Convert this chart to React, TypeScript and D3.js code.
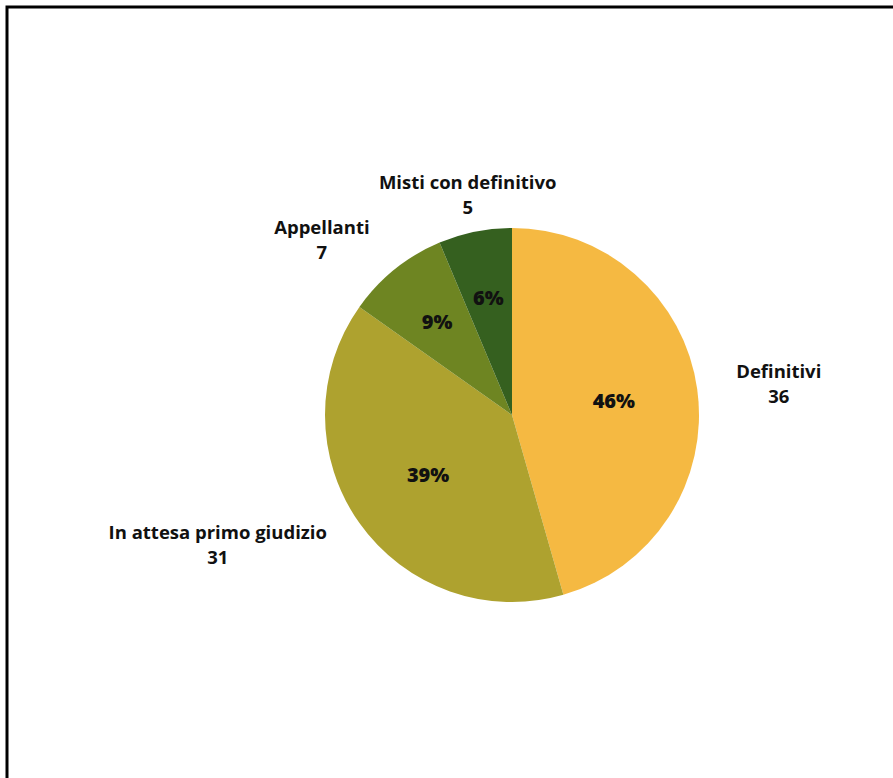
import React, { useEffect, useRef } from "react";
import * as d3 from "d3";

const categories = ["Definitivi", "In attesa primo giudizio", "Appellanti", "Misti con definitivo"];
const values = [36, 31, 7, 5];
const colors = ["#F5B942", "#AEA22F", "#6E8522", "#35601F"];

const W = 893;
const H = 778;

export default function App() {
  const ref = useRef<SVGSVGElement>(null);

  useEffect(() => {
    const svg = d3.select(ref.current);
    svg.selectAll("*").remove();

    svg.append("rect").attr("x", 0).attr("y", 0).attr("width", W).attr("height", H).attr("fill", "#fff");
    svg
      .append("path")
      .attr("d", `M7,${H + 10} L7,7 L${W + 10},7`)
      .attr("fill", "none")
      .attr("stroke", "#000")
      .attr("stroke-width", 3);

    const cx = 512;
    const cy = 415;
    const r = 187;
    const total = d3.sum(values);
    const data = categories.map((c, i) => ({ c, v: values[i], col: colors[i] }));

    const pie = d3.pie<any>().value((d) => d.v).sort(null);
    const arcs = pie(data);
    const arc = d3.arc<any>().innerRadius(0).outerRadius(r);

    const g = svg.append("g").attr("transform", `translate(${cx},${cy})`);
    g.selectAll("path.slice")
      .data(arcs)
      .join("path")
      .attr("class", "slice")
      .attr("d", arc as any)
      .attr("fill", (d: any) => d.data.col);

    const font = "'Open Sans', 'Noto Sans', sans-serif";
    const fs = 18.5;

    arcs.forEach((a: any) => {
      const share = a.data.v / total;
      const mid = (a.startAngle + a.endAngle) / 2;
      const pr = share > 0.2 ? r * 0.55 : r * 0.64;
      g.append("text")
        .attr("x", Math.sin(mid) * pr)
        .attr("y", -Math.cos(mid) * pr)
        .attr("dy", "0.36em")
        .attr("text-anchor", "middle")
        .attr("font-family", font)
        .attr("font-weight", 800)
        .attr("font-size", 20)
        .attr("fill", "#111")
        .text(`${Math.round(share * 100)}%`);

      const lr = r * 1.2;
      const sx = Math.sin(mid);
      const lx = sx * lr;
      const ly = -Math.cos(mid) * lr;
      const t1 = g
        .append("text")
        .attr("font-family", font)
        .attr("font-weight", 700)
        .attr("font-size", fs)
        .attr("fill", "#111")
        .text(a.data.c);
      const w = (t1.node() as SVGTextElement).getComputedTextLength();
      let centerX = lx;
      if (Math.abs(sx) > 0.4) centerX = lx + Math.sign(sx) * (w / 2 + 2);
      t1.attr("x", centerX).attr("y", ly - 6).attr("text-anchor", "middle");
      g.append("text")
        .attr("x", centerX)
        .attr("y", ly + 19)
        .attr("text-anchor", "middle")
        .attr("font-family", font)
        .attr("font-weight", 700)
        .attr("font-size", fs)
        .attr("fill", "#111")
        .text(String(a.data.v));
    });
  }, []);

  return (
    <svg
      ref={ref}
      width={W}
      height={H}
      style={{ position: "absolute", left: 0, top: 0, display: "block" }}
    />
  );
}
